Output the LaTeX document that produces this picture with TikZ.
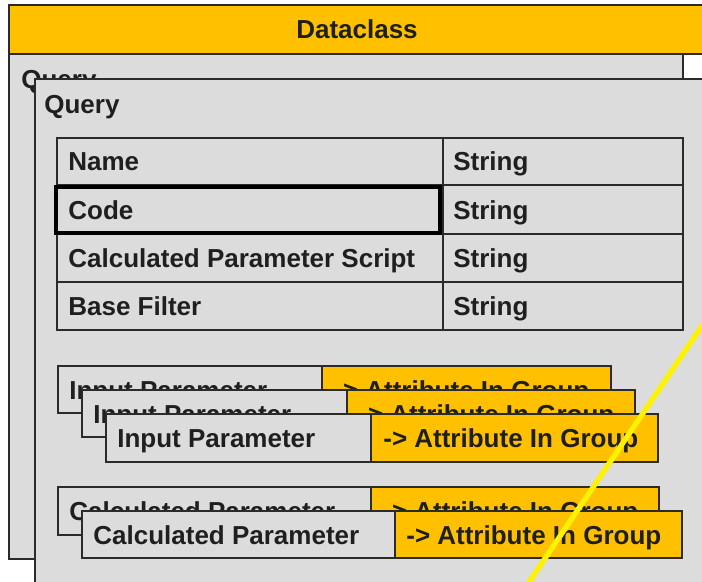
\documentclass[tikz,border=0pt]{standalone}
\usepackage{fontspec}
\setmainfont{Liberation Sans}
\definecolor{dcyellow}{HTML}{FFC000}
\definecolor{dcgray}{HTML}{DCDCDC}
\definecolor{dcline}{HTML}{2B2B2B}
\tikzset{
  panelbox/.style={draw=dcline, line width=0.8pt},
  txt/.style={anchor=base west, inner sep=0pt, font=\fontsize{14.8}{18}\selectfont\bfseries, text=black!88}
}
\begin{document}
\begin{tikzpicture}[x=0.02cm,y=-0.02cm]
  \useasboundingbox (0,0) rectangle (702,581);
  \clip (0,0) rectangle (702,581);
  \fill[white] (0,0) rectangle (702,581);

  % title bar
  \filldraw[fill=dcyellow, panelbox] (9,5) rectangle (712,54);
  \node[txt, anchor=base] (title) at (357,39) {Dataclass};

  % query panel behind
  \filldraw[fill=dcgray, panelbox] (9,54) rectangle (683,559);
  \node[txt] (queryback) at (21,89) {Query};

  % query panel in front
  \filldraw[fill=dcgray, panelbox] (35,79) rectangle (712,592);
  \node[txt] (query) at (44,113) {Query};

  % attribute table
  \draw[panelbox] (57,138) rectangle (683,330);
  \draw[panelbox] (443,138) -- (443,330); % type column
  \draw[panelbox] (57,185) -- (683,185);
  \draw[panelbox] (57,234) -- (683,234);
  \draw[panelbox] (57,282) -- (683,282);
  \draw[line width=2.4pt, black] (56,187) rectangle (440,233); % selected
  \node[txt] (name) at (68,170) {Name};
  \node[txt] (nametype) at (453,170) {String};
  \node[txt] (code) at (68,219) {Code};
  \node[txt] (codetype) at (453,219) {String};
  \node[txt] (script) at (68,267) {Calculated Parameter Script};
  \node[txt] (scripttype) at (453,267) {String};
  \node[txt] (filter) at (68,315) {Base Filter};
  \node[txt] (filtertype) at (453,315) {String};

  % input parameters
  \filldraw[fill=dcgray, panelbox] (58,366) rectangle (322,413);
  \filldraw[fill=dcyellow, panelbox] (322,366) rectangle (611,413);
  \node[txt] (inputA) at (69,399) {Input Parameter};
  \node[txt] (inputAref) at (334,399) {-> Attribute In Group};

  \filldraw[fill=dcgray, panelbox] (82,390) rectangle (347,437);
  \filldraw[fill=dcyellow, panelbox] (347,390) rectangle (635,437);
  \node[txt] (inputB) at (93,423) {Input Parameter};
  \node[txt] (inputBref) at (359,423) {-> Attribute In Group};

  \filldraw[fill=dcgray, panelbox] (106,414) rectangle (371,462);
  \filldraw[fill=dcyellow, panelbox] (371,414) rectangle (658,462);
  \node[txt] (inputC) at (117,447) {Input Parameter};
  \node[txt] (inputCref) at (383,447) {-> Attribute In Group};

  % calculated parameters
  \filldraw[fill=dcgray, panelbox] (58,487) rectangle (371,535);
  \filldraw[fill=dcyellow, panelbox] (371,487) rectangle (659,535);
  \node[txt] (calcA) at (69,520) {Calculated Parameter};
  \node[txt] (calcAref) at (383,520) {-> Attribute In Group};

  \filldraw[fill=dcgray, panelbox] (82,511) rectangle (395,558);
  \filldraw[fill=dcyellow, panelbox] (395,511) rectangle (682,558);
  \node[txt] (calcB) at (93,544) {Calculated Parameter};
  \node[txt] (calcBref) at (406,544) {-> Attribute In Group};

  % marker stroke
  \draw[yellow, line width=3pt] (714,308) -- (525,588);
\end{tikzpicture}
\end{document}
